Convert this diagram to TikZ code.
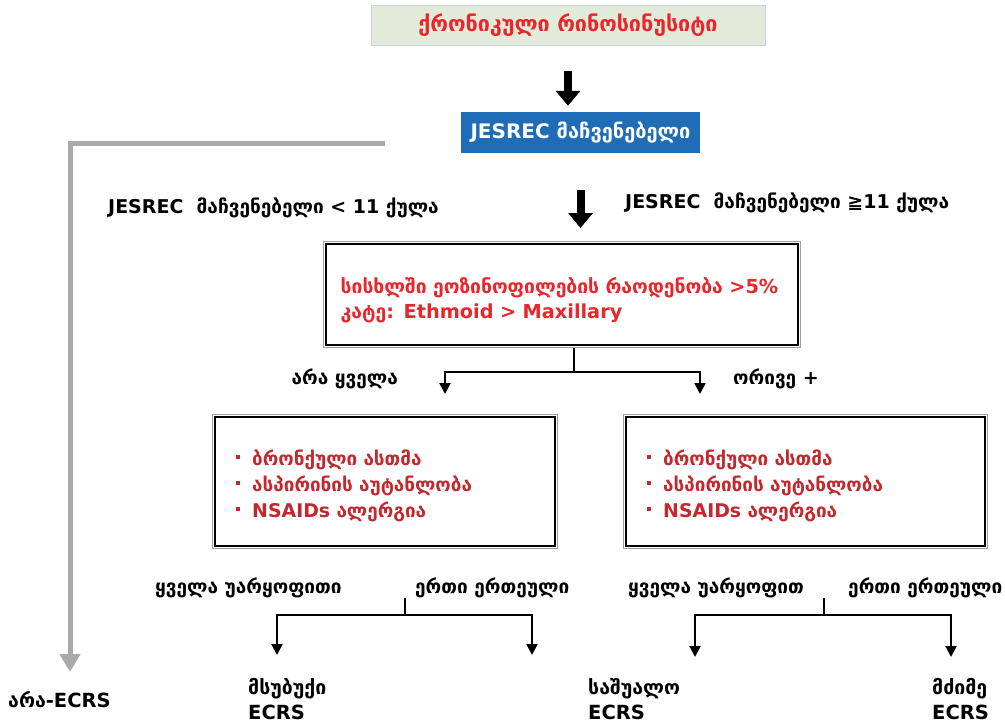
\documentclass[tikz,border=0pt]{standalone}
\usepackage{fontspec}
\setmainfont{DejaVu Sans}
\usepackage{tikz}
\usetikzlibrary{arrows.meta}
\definecolor{titlegreen}{HTML}{E2EBDA}
\definecolor{titleline}{HTML}{C9D2DE}
\definecolor{brightred}{HTML}{E8262B}
\definecolor{darkred}{HTML}{C2282E}
\definecolor{jesblue}{HTML}{1E6DB6}
\definecolor{leftgray}{HTML}{AAAAAA}
\newcommand{\sqbullet}{\textcolor{darkred}{\raisebox{0.55ex}{\rule{4.5pt}{4.5pt}}}\hspace{12pt}}

\begin{document}
\begin{tikzpicture}[x=1pt,y=-1pt,
  lbl/.style={font=\bfseries\fontsize{19}{22}\selectfont, inner sep=0pt},
  res/.style={font=\bfseries\fontsize{19.5}{25}\selectfont, inner sep=0pt, align=left, anchor=north west},
  dblbox/.style={draw=gray!75, line width=1.4pt, fill=white, inner ysep=0pt, align=left, anchor=north west},
  stem/.style={line width=2.2pt},
  fork/.style={line width=2.2pt, -{Triangle[length=11pt,width=11pt]}},
  blockarrow/.style={line width=8pt, -{Triangle[length=15pt,width=24pt]}},
  grayarrow/.style={line width=5pt, color=leftgray, -{Triangle[length=18pt,width=20pt]}}]
\useasboundingbox (0,0) rectangle (1005,723);% reference size in px

% top of the chart
\node[draw=titleline, line width=1pt, fill=titlegreen, minimum width=394pt, minimum height=40pt, text=brightred, font=\bfseries\fontsize{21.5}{24}\selectfont] (crs) at (568,25) {ქრონიკული რინოსინუსიტი};
\node[fill=jesblue, minimum width=239pt, minimum height=41pt, text=white, font=\bfseries\fontsize{20}{22}\selectfont] (jesrec) at (580.5,132.5) {JESREC მაჩვენებელი};
\draw[blockarrow, shorten <=25pt, shorten >=6pt] (crs.south) -- (crs.south |- jesrec.north);

% JESREC < 11: grey branch
\coordinate (gstart) at (385,143);
\coordinate (gend) at (70,672);
\draw[grayarrow] (gstart) -| (gend);
\node[lbl, anchor=west] (low) at (108,208) {JESREC\ \ მაჩვენებელი < 11 ქულა};
\node[lbl, anchor=west] (high) at (625,203) {JESREC\ \ მაჩვენებელი ≧11 ქულა};

% criteria box
\node[dblbox, text=brightred, font=\bfseries\fontsize{19.3}{25}\selectfont, inner xsep=17pt, text width=443pt, minimum height=106pt] (crit) at (323,241) {\rule{0pt}{27pt}სისხლში ეოზინოფილების რაოდენობა >5\%\\კატე: Ethmoid > Maxillary};
\draw[blockarrow, shorten <=37pt, shorten >=13pt] (jesrec.south) -- (jesrec.south |- crit.north);

% first fork
\coordinate (forkA) at (574,372);
\coordinate (tipA1) at (445,394);
\coordinate (tipA2) at (700,394);
\draw[stem] (forkA |- crit.south) -- (forkA);
\draw[fork] (forkA) -| (tipA1);
\draw[fork] (forkA) -| (tipA2);
\node[lbl, anchor=east] (notall) at (398,379) {არა ყველა};
\node[lbl, anchor=west] (both) at (733,379) {ორივე +};

% comorbidity boxes
\node[dblbox, text=darkred, font=\bfseries\fontsize{18.9}{26}\selectfont, inner xsep=23pt, text width=299pt, minimum height=134pt] (boxL) at (212,414) {\rule{0pt}{23pt}\sqbullet ბრონქული ასთმა\\\sqbullet ასპირინის აუტანლობა\\\sqbullet NSAIDs ალერგია};
\node[dblbox, text=darkred, font=\bfseries\fontsize{18.9}{26}\selectfont, inner xsep=23pt, text width=318pt, minimum height=134pt] (boxR) at (623,414) {\rule{0pt}{23pt}\sqbullet ბრონქული ასთმა\\\sqbullet ასპირინის აუტანლობა\\\sqbullet NSAIDs ალერგია};
\foreach \b in {crit,boxL,boxR}
  \draw[black, line width=1.8pt] ([shift={(3.2,3.2)}]\b.north west) rectangle ([shift={(-3.2,-3.2)}]\b.south east);% inner line of the double frame

% left lower fork
\node[lbl, anchor=west] (allnegL) at (155,588) {ყველა უარყოფითი};
\node[lbl, anchor=west] (oneL) at (415,588) {ერთი ერთეული};
\coordinate (stemB) at (405,598);
\coordinate (forkB) at (405,615);
\coordinate (tipB1) at (277,655);
\coordinate (tipB2) at (532,655);
\draw[stem] (stemB) -- (forkB);
\draw[fork] (forkB) -| (tipB1);
\draw[fork] (forkB) -| (tipB2);

% right lower fork
\node[lbl, anchor=west] (allnegR) at (628,588) {ყველა უარყოფით};
\node[lbl, anchor=west] (oneR) at (848,588) {ერთი ერთეული};
\coordinate (stemC) at (824,598);
\coordinate (forkC) at (824,615);
\coordinate (tipC1) at (695,657);
\coordinate (tipC2) at (951,657);
\draw[stem] (stemC) -- (forkC);
\draw[fork] (forkC) -| (tipC1);
\draw[fork] (forkC) -| (tipC2);

% outcomes
\node[res, anchor=west] (nonecrs) at (8,700) {არა-ECRS};
\node[res] (mild) at (248,678) {მსუბუქი\\ECRS};
\node[res] (moderate) at (588,678) {საშუალო\\ECRS};
\node[res] (severe) at (932,678) {მძიმე\\ECRS};
\end{tikzpicture}
\end{document}
